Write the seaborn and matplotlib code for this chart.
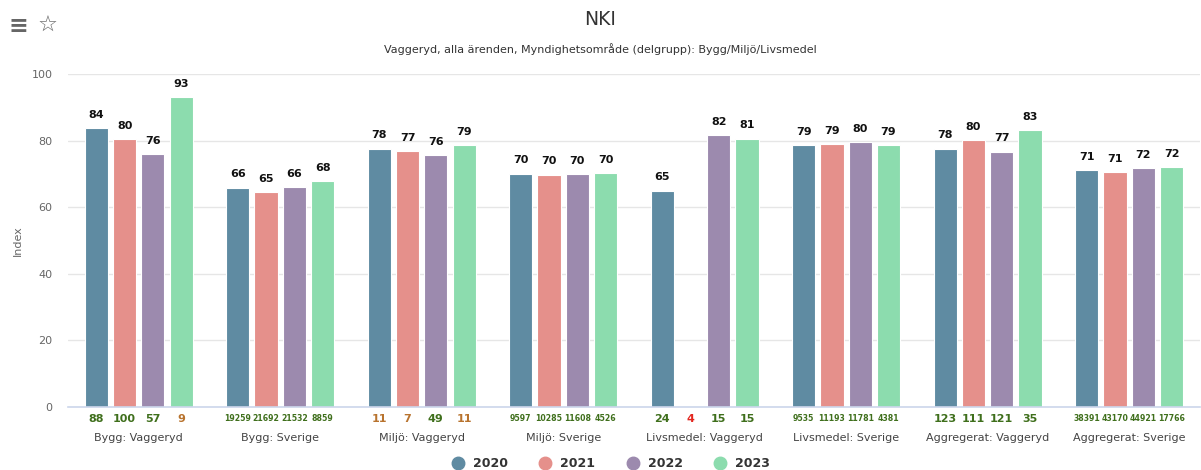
import matplotlib
matplotlib.use("Agg")
import matplotlib.pyplot as plt
from matplotlib.lines import Line2D
import seaborn as sns
import numpy as np
import pandas as pd

CATEGORIES = ["Bygg: Vaggeryd", "Bygg: Sverige", "Miljö: Vaggeryd", "Miljö: Sverige",
              "Livsmedel: Vaggeryd", "Livsmedel: Sverige",
              "Aggregerat: Vaggeryd", "Aggregerat: Sverige"]
YEARS = ["2020", "2021", "2022", "2023"]

NKI_2020 = [83.7, 65.9, 77.6, 70.1, 65.0, 78.6, 77.6, 71.2]
NKI_2021 = [80.4, 64.6, 76.8, 69.8, np.nan, 78.9, 80.1, 70.6]
NKI_2022 = [75.9, 66.1, 75.6, 70.0, 81.7, 79.6, 76.7, 71.7]
NKI_2023 = [93.2, 67.8, 78.6, 70.2, 80.6, 78.7, 83.2, 72.1]

N_2020 = [88, 19259, 11, 9597, 24, 9535, 123, 38391]
N_2021 = [100, 21692, 7, 10285, 4, 11193, 111, 43170]
N_2022 = [57, 21532, 49, 11608, 15, 11781, 121, 44921]
N_2023 = [9, 8859, 11, 4526, 15, 4381, 35, 17766]

PALETTE = ["#5f8ba2", "#e5908b", "#9c8aae", "#8cdcae"]

TITLE = "NKI"
SUBTITLE = "Vaggeryd, alla ärenden, Myndighetsområde (delgrupp): Bygg/Miljö/Livsmedel"

values = [NKI_2020, NKI_2021, NKI_2022, NKI_2023]
counts = [N_2020, N_2021, N_2022, N_2023]

df = pd.DataFrame({
    "category": np.tile(CATEGORIES, len(YEARS)),
    "year": np.repeat(YEARS, len(CATEGORIES)),
    "value": np.concatenate(values),
})


def count_color(n):
    if n < 5:
        return "#e3261f"
    if n < 15:
        return "#b8732e"
    return "#3f6f1c"


sns.set_style("white")
plt.rcParams["font.family"] = ["DejaVu Sans"]

fig = plt.figure(figsize=(12.01, 4.70), dpi=100)
ax = fig.add_axes([0.0566, 0.134, 0.9424, 0.708])

sns.barplot(data=df, x="category", y="value", hue="year", order=CATEGORIES,
            hue_order=YEARS, palette=PALETTE, width=0.8, gap=0.18,
            edgecolor="white", linewidth=0.8, saturation=1, legend=False, ax=ax)

for c in ax.containers:
    ax.bar_label(c, fmt="%.0f", padding=6, fontsize=8, fontweight="bold", color="#111111")

ax.set_ylim(0, 100)
ax.set_xlim(-0.5, len(CATEGORIES) - 0.5)
ax.set_yticks([0, 20, 40, 60, 80, 100])
ax.yaxis.grid(True, color="#e6e6e6", linewidth=1)
ax.set_axisbelow(True)
for s in ["top", "right", "left"]:
    ax.spines[s].set_visible(False)
ax.spines["bottom"].set_color("#ccd6eb")
ax.spines["bottom"].set_linewidth(1.2)

ax.tick_params(axis="y", length=0, labelsize=8, labelcolor="#666666", pad=11)
ax.tick_params(axis="x", length=0, labelsize=8, labelcolor="#444444", pad=19)
ax.set_xlabel("")
ax.set_ylabel("Index", fontsize=8, color="#666666", labelpad=6)

trans = ax.get_xaxis_transform()
for j, yr_counts in enumerate(counts):
    for i, n in enumerate(yr_counts):
        x = i + (j - 1.5) * 0.2
        big = n >= 1000
        ax.text(x, -0.035, f"{n}", transform=trans, ha="center", va="center",
                fontsize=5.6 if big else 8, fontweight="bold", color=count_color(n))

fig.text(0.5, 0.958, TITLE, ha="center", va="center", fontsize=13.5, color="#333333")
fig.text(0.5, 0.895, SUBTITLE, ha="center", va="center", fontsize=8, color="#333333")

fig.text(0.015, 0.945, "≡", ha="center", va="center", fontsize=17, color="#666666",
         fontweight="bold")
fig.text(0.04, 0.945, "☆", ha="center", va="center", fontsize=16, color="#666666")

handles = [Line2D([0], [0], marker="o", linestyle="", markersize=9,
                  markerfacecolor=col, markeredgecolor=col) for col in PALETTE]
fig.legend(handles, YEARS, loc="center", bbox_to_anchor=(0.506, 0.013), ncol=4,
           frameon=False, handletextpad=0.2, columnspacing=2.0,
           prop={"size": 9, "weight": "bold"}, labelcolor="#333333")

fig.savefig("out.png", dpi=100)
